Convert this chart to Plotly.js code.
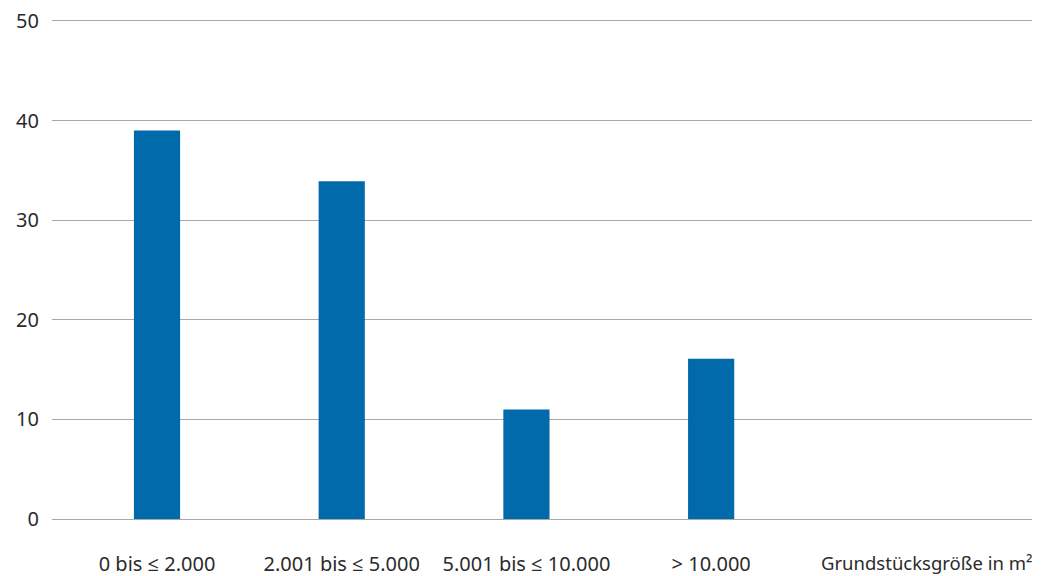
<!DOCTYPE html>
<html>
<head>
<meta charset="utf-8">
<script src="https://cdn.plot.ly/plotly-3.0.1.min.js"></script>
<style>html,body{margin:0;padding:0;background:#fff;}#chart{width:1041px;height:576px;}</style>
</head>
<body>
<div id="chart"></div>
<script>
const categories = ["0 bis ≤ 2.000", "2.001 bis ≤ 5.000", "5.001 bis ≤ 10.000", "> 10.000"];
const values = [39, 33.9, 11, 16.1];
const yTicks = [0, 10, 20, 30, 40, 50];
const axisLabel = "Grundstücksgröße in m²";

const font = {family: "Noto Sans, Open Sans, sans-serif", size: 20, color: "#2b2b2b"};

const trace = {
  type: "bar",
  x: categories.map((c, i) => i),
  y: values,
  width: 0.25,
  marker: {color: "#006aab"},
  hoverinfo: "none"
};

const layout = {
  width: 1041, height: 576,
  margin: {l: 52, r: 9, t: 18, b: 54},
  paper_bgcolor: "#fff", plot_bgcolor: "#fff",
  font: font,
  showlegend: false,
  xaxis: {
    range: [-0.5685, 4.737],
    tickmode: "array",
    tickvals: categories.map((c, i) => i),
    ticktext: categories,
    showgrid: false, zeroline: false, showline: false,
    ticks: "outside", ticklen: 24, tickcolor: "rgba(0,0,0,0)",
    tickfont: font
  },
  yaxis: {
    range: [-0.3, 50.3],
    tickmode: "array",
    tickvals: yTicks,
    ticktext: yTicks.map(String),
    showgrid: true, gridcolor: "#a8a8a8", gridwidth: 1,
    zeroline: false, showline: false,
    ticks: "outside", ticklen: 8, tickcolor: "rgba(0,0,0,0)",
    tickfont: font
  },
  annotations: [{
    text: axisLabel,
    xref: "paper", yref: "paper", x: 1, y: 0,
    xanchor: "right", yanchor: "middle",
    xshift: 3, yshift: -40,
    showarrow: false, font: {family: font.family, size: 18.5, color: font.color}
  }]
};

Plotly.newPlot("chart", [trace], layout, {displayModeBar: false, staticPlot: true});
</script>
</body>
</html>
